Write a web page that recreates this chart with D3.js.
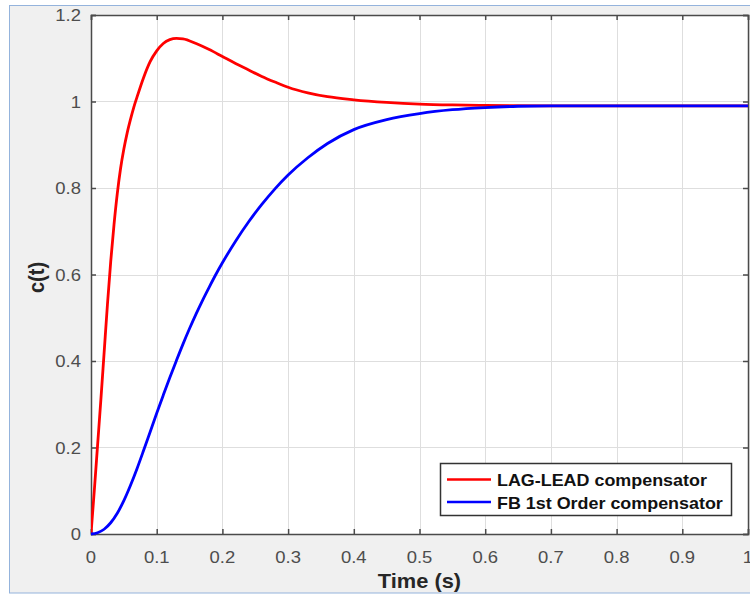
<!DOCTYPE html>
<html>
<head>
<meta charset="utf-8">
<script src="https://cdn.jsdelivr.net/npm/d3@7"></script>
<style>
  html, body { margin: 0; padding: 0; background: #ffffff; }
  svg { display: block; }
  text { font-family: "Liberation Sans", Arial, Helvetica, sans-serif; }
</style>
</head>
<body>
<svg id="chart" width="750" height="596"></svg>
<script>
// ---- data ----
const seriesNames = ["LAG-LEAD compensator", "FB 1st Order compensator"];
const seriesColors = ["#ff0000", "#0000ff"];

const tRed = [0, 0.005, 0.01, 0.015, 0.02, 0.025, 0.03, 0.035, 0.04, 0.045, 0.05, 0.055, 0.06, 0.065, 0.07, 0.08, 0.09, 0.10, 0.11, 0.12, 0.13, 0.14, 0.16, 0.18, 0.20, 0.22, 0.24, 0.26, 0.28, 0.30, 0.33, 0.36, 0.40, 0.45, 0.50, 0.55, 0.60, 0.70, 0.80, 0.90, 1.00];
const cRed = [0, 0.10, 0.205, 0.31, 0.42, 0.53, 0.63, 0.715, 0.787, 0.845, 0.89, 0.927, 0.958, 0.986, 1.01, 1.055, 1.092, 1.117, 1.134, 1.143, 1.146, 1.145, 1.134, 1.12, 1.104, 1.088, 1.073, 1.058, 1.045, 1.033, 1.02, 1.011, 1.004, 0.998, 0.994, 0.992, 0.991, 0.99, 0.99, 0.99, 0.99];

const tBlue = [0, 0.01, 0.02, 0.03, 0.04, 0.05, 0.06, 0.07, 0.08, 0.09, 0.10, 0.11, 0.12, 0.13, 0.14, 0.15, 0.16, 0.17, 0.18, 0.19, 0.20, 0.22, 0.24, 0.26, 0.28, 0.30, 0.33, 0.36, 0.40, 0.45, 0.50, 0.55, 0.60, 0.65, 0.70, 0.80, 0.90, 1.00];
const cBlue = [0, 0.003, 0.011, 0.026, 0.048, 0.077, 0.112, 0.151, 0.193, 0.236, 0.279, 0.321, 0.362, 0.401, 0.439, 0.475, 0.509, 0.541, 0.571, 0.600, 0.627, 0.677, 0.722, 0.762, 0.798, 0.830, 0.870, 0.903, 0.935, 0.958, 0.972, 0.981, 0.986, 0.989, 0.99, 0.99, 0.99, 0.99];

const xTicks = [0, 0.1, 0.2, 0.3, 0.4, 0.5, 0.6, 0.7, 0.8, 0.9, 1];
const xTickLabels = ["0", "0.1", "0.2", "0.3", "0.4", "0.5", "0.6", "0.7", "0.8", "0.9", "1"];
const yTicks = [0, 0.2, 0.4, 0.6, 0.8, 1, 1.2];
const yTickLabels = ["0", "0.2", "0.4", "0.6", "0.8", "1", "1.2"];
const xLabel = "Time (s)";
const yLabel = "c(t)";

// ---- layout ----
const svg = d3.select("#chart");
const plot = { left: 91, top: 15, right: 748, bottom: 534 };
const SX = 1.12; // horizontal stretch of the reference text

// outer panel
svg.append("rect")
  .attr("x", 9.5).attr("y", 5.5).attr("width", 800).attr("height", 587.5)
  .attr("fill", "#f0f0f0").attr("stroke", "#94b3dc").attr("stroke-width", 1);

const x = d3.scaleLinear().domain([0, 1]).range([plot.left, plot.right]);
const y = d3.scaleLinear().domain([0, 1.2]).range([plot.bottom, plot.top]);

// plot background
svg.append("rect")
  .attr("x", plot.left).attr("y", plot.top)
  .attr("width", plot.right - plot.left).attr("height", plot.bottom - plot.top)
  .attr("fill", "#ffffff");

// grid
const grid = svg.append("g").attr("stroke", "#dedede").attr("stroke-width", 1);
grid.selectAll("line.gx").data(xTicks.slice(1, -1)).join("line")
  .attr("x1", d => Math.round(x(d)) + 0.5).attr("x2", d => Math.round(x(d)) + 0.5)
  .attr("y1", plot.top).attr("y2", plot.bottom);
grid.selectAll("line.gy").data(yTicks.slice(1, -1)).join("line")
  .attr("y1", d => Math.round(y(d)) + 0.5).attr("y2", d => Math.round(y(d)) + 0.5)
  .attr("x1", plot.left).attr("x2", plot.right);

// axes (inward ticks, MATLAB-like box)
const axColor = "#4a4a4a";
const bottomAxis = d3.axisBottom(x).tickValues(xTicks).tickSize(-5).tickFormat("");
const topAxis = d3.axisTop(x).tickValues(xTicks).tickSize(-5).tickFormat("");
const leftAxis = d3.axisLeft(y).tickValues(yTicks).tickSize(-5).tickFormat("");
const rightAxis = d3.axisRight(y).tickValues(yTicks).tickSize(-5).tickFormat("");

function styleAxis(g) {
  g.select(".domain").attr("stroke", axColor).attr("stroke-width", 1.5);
  g.selectAll(".tick line").attr("stroke", axColor).attr("stroke-width", 1.5);
}
svg.append("g").attr("transform", `translate(0,${plot.bottom})`).call(bottomAxis).call(styleAxis);
svg.append("g").attr("transform", `translate(0,${plot.top})`).call(topAxis).call(styleAxis);
svg.append("g").attr("transform", `translate(${plot.left},0)`).call(leftAxis).call(styleAxis);
svg.append("g").attr("transform", `translate(${plot.right},0)`).call(rightAxis).call(styleAxis);

// tick labels
const tickFont = 16.5, tickColor = "#4d4d4d";
svg.append("g").selectAll("text").data(xTicks).join("text")
  .attr("transform", d => `translate(${x(d)},563) scale(${SX},1)`)
  .attr("text-anchor", "middle")
  .attr("font-size", tickFont).attr("fill", tickColor)
  .text((d, i) => xTickLabels[i]);
svg.append("g").selectAll("text").data(yTicks).join("text")
  .attr("transform", d => `translate(81,${y(d) + 6}) scale(${SX},1)`)
  .attr("text-anchor", "end")
  .attr("font-size", tickFont).attr("fill", tickColor)
  .text((d, i) => yTickLabels[i]);

// axis labels
svg.append("text")
  .attr("transform", `translate(${(plot.left + plot.right) / 2},588) scale(${SX},1)`)
  .attr("text-anchor", "middle").attr("font-weight", "bold")
  .attr("font-size", 19.5).attr("fill", "#262626")
  .text(xLabel);
svg.append("text")
  .attr("transform", `translate(44,${(plot.top + plot.bottom) / 2 + 3}) scale(${SX},1) rotate(-90)`)
  .attr("text-anchor", "middle").attr("font-weight", "bold")
  .attr("font-size", 20).attr("fill", "#262626")
  .text(yLabel);

// curves
svg.append("clipPath").attr("id", "plotclip").append("rect")
  .attr("x", plot.left).attr("y", plot.top - 2)
  .attr("width", plot.right - plot.left).attr("height", plot.bottom - plot.top + 4);

const line = d3.line().x(d => x(d[0])).y(d => y(d[1])).curve(d3.curveMonotoneX);
const series = [
  tRed.map((t, i) => [t, cRed[i]]),
  tBlue.map((t, i) => [t, cBlue[i]])
];
svg.append("g").attr("clip-path", "url(#plotclip)")
  .selectAll("path").data(series).join("path")
  .attr("d", line)
  .attr("fill", "none")
  .attr("stroke", (d, i) => seriesColors[i])
  .attr("stroke-width", 2.8)
  .attr("stroke-linejoin", "round");

// legend
const lg = svg.append("g");
lg.append("rect")
  .attr("x", 440.5).attr("y", 463.5).attr("width", 291).attr("height", 52)
  .attr("fill", "#ffffff").attr("stroke", "#333333").attr("stroke-width", 1.5);
const rows = lg.selectAll("g.row").data(seriesNames).join("g")
  .attr("transform", (d, i) => `translate(0,${479.5 + i * 22.5})`);
rows.append("line")
  .attr("x1", 447).attr("x2", 491).attr("y1", 0).attr("y2", 0)
  .attr("stroke", (d, i) => seriesColors[i]).attr("stroke-width", 2.5);
rows.append("text")
  .attr("transform", `translate(497,6.5) scale(${SX},1)`)
  .attr("font-weight", "bold").attr("font-size", 16).attr("fill", "#111111")
  .text(d => d);
</script>
</body>
</html>
